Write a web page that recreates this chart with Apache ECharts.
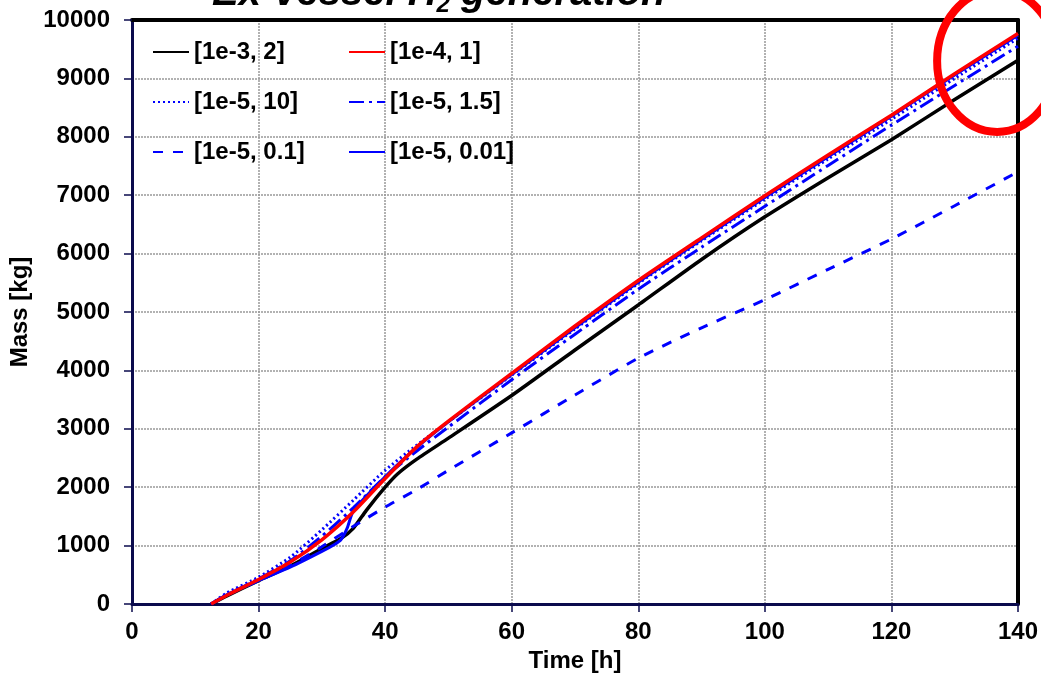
<!DOCTYPE html>
<html>
<head>
<meta charset="utf-8">
<script src="https://cdn.jsdelivr.net/npm/echarts@6/dist/echarts.min.js"></script>
<style>
html,body{margin:0;padding:0;background:#fff;}
#chart{width:1041px;height:674px;}
</style>
</head>
<body>
<div id="chart"></div>
<script>
// ---- data ----
const xTicks = [0, 20, 40, 60, 80, 100, 120, 140];
const yTicks = [0, 1000, 2000, 3000, 4000, 5000, 6000, 7000, 8000, 9000, 10000];

const tBlack = [12.5, 15, 20, 25, 30, 33, 35, 37, 40, 42, 45, 50, 60, 70, 80, 90, 100, 110, 120, 130, 140];
const vBlack = [0, 140, 400, 650, 950, 1120, 1300, 1600, 2000, 2230, 2480, 2840, 3570, 4350, 5120, 5900, 6630, 7300, 7950, 8640, 9310];

const tRed = [12.5, 15, 20, 25, 30, 35, 40, 45, 50, 60, 70, 80, 90, 100, 110, 120, 130, 140];
const vRed = [0, 150, 420, 720, 1100, 1580, 2150, 2690, 3130, 3950, 4760, 5540, 6270, 6990, 7690, 8370, 9080, 9770];

const tDot = [12.5, 15, 20, 25, 30, 35, 40, 45, 50, 60, 70, 80, 90, 100, 110, 120, 130, 140];
const vDot = [0, 190, 460, 800, 1270, 1780, 2290, 2720, 3120, 3920, 4710, 5490, 6220, 6930, 7620, 8300, 9000, 9690];

const tDashDot = [12.5, 15, 20, 25, 30, 35, 40, 45, 50, 60, 70, 80, 90, 100, 110, 120, 130, 140];
const vDashDot = [0, 160, 430, 740, 1160, 1650, 2180, 2620, 3030, 3840, 4620, 5390, 6110, 6810, 7510, 8200, 8880, 9550];

const tDash = [12.5, 15, 20, 25, 30, 35, 40, 45, 50, 60, 70, 80, 90, 100, 110, 120, 130, 140];
const vDash = [0, 150, 400, 660, 980, 1330, 1660, 1960, 2290, 2930, 3580, 4210, 4730, 5210, 5730, 6250, 6820, 7400];

const tSolidBlue = [12.5, 15, 20, 25, 30, 32, 33, 34, 35, 40, 45, 50, 60, 70, 80, 90, 100, 110, 120, 130, 140];
const vSolidBlue = [0, 160, 400, 630, 900, 1020, 1100, 1300, 1600, 2180, 2680, 3120, 3930, 4730, 5510, 6240, 6960, 7660, 8350, 9060, 9740];

const names = ['[1e-3, 2]', '[1e-4, 1]', '[1e-5, 10]', '[1e-5, 1.5]', '[1e-5, 0.1]', '[1e-5, 0.01]'];
const titleParts = ['Ex-vessel H', '2', ' generation'];
const xName = 'Time [h]';
const yName = 'Mass [kg]';

// ---- chart ----
const FONT = '"Liberation Sans", Arial, sans-serif';
const NAVY = '#0b0b4d';
const zip = (t, v) => t.map((x, i) => [x, v[i]]);

const chart = echarts.init(document.getElementById('chart'), null, {renderer: 'canvas'});

function lineSeries(name, data, color, width, type) {
  return {
    name: name, type: 'line', data: data, xAxisIndex: 0, yAxisIndex: 0,
    showSymbol: false, symbol: 'none', smooth: 0.2,
    lineStyle: {color: color, width: width, type: type, cap: 'butt'},
    itemStyle: {color: color},
    emphasis: {disabled: true},
    animation: false
  };
}

const legendText = {fontSize: 24, fontWeight: 'bold', fontFamily: FONT, color: '#000', lineHeight: 24};
const legendCommon = {
  orient: 'vertical', top: 40, padding: 0,
  itemWidth: 36, itemHeight: 14, itemGap: 26, textStyle: legendText, selectedMode: false,
  itemStyle: {opacity: 0}
};

const option = {
  animation: false,
  backgroundColor: '#fff',
  title: {
    text: '{a|' + titleParts[0] + '}{s|' + titleParts[1] + '}{a|' + titleParts[2] + '}',
    left: 212, top: -26, padding: 0,
    textStyle: {
      rich: {
        a: {fontSize: 40, fontWeight: 'bold', fontStyle: 'italic', fontFamily: FONT, color: '#000', lineHeight: 44, verticalAlign: 'top'},
        s: {fontSize: 24, fontWeight: 'bold', fontStyle: 'italic', fontFamily: FONT, color: '#000', lineHeight: 24, padding: [19, 0, 0, 0], verticalAlign: 'top'}
      }
    }
  },
  legend: [
    Object.assign({data: [names[0], names[2], names[4]], left: 152}, legendCommon),
    Object.assign({data: [names[1], names[3], names[5]], left: 348}, legendCommon)
  ],
  grid: {left: 132, right: 23, top: 20, bottom: 70, outerBoundsMode: 'none', containLabel: false},
  xAxis: [
    {
      type: 'value', min: xTicks[0], max: xTicks[xTicks.length - 1], interval: 20,
      name: xName, nameLocation: 'middle', nameGap: 40,
      nameTextStyle: {fontSize: 24, fontWeight: 'bold', fontFamily: FONT, color: '#000'},
      axisLine: {show: true, onZero: false, lineStyle: {color: NAVY, width: 3}},
      axisTick: {show: true, inside: false, length: 8, lineStyle: {color: NAVY, width: 1.5}},
      axisLabel: {fontSize: 24, fontWeight: 'bold', fontFamily: FONT, color: '#000', margin: 16,
                  formatter: v => String(v)},
      splitLine: {show: true, lineStyle: {color: '#999', width: 1.5, type: [2, 1]}}
    },
    {
      type: 'value', position: 'top', min: xTicks[0], max: xTicks[xTicks.length - 1], interval: 20,
      axisLine: {show: true, onZero: false, lineStyle: {color: '#000', width: 4}},
      axisTick: {show: false}, axisLabel: {show: false}, splitLine: {show: false}
    }
  ],
  yAxis: [
    {
      type: 'value', min: yTicks[0], max: yTicks[yTicks.length - 1], interval: 1000,
      name: yName, nameLocation: 'middle', nameGap: 86, nameRotate: 90,
      nameTextStyle: {fontSize: 24, fontWeight: 'bold', fontFamily: FONT, color: '#000'},
      axisLine: {show: true, onZero: false, lineStyle: {color: NAVY, width: 3}},
      axisTick: {show: true, inside: false, length: 8, lineStyle: {color: NAVY, width: 1.5}},
      axisLabel: {fontSize: 24, fontWeight: 'bold', fontFamily: FONT, color: '#000', margin: 22,
                  formatter: v => String(v)},
      splitLine: {show: true, lineStyle: {color: '#999', width: 1.5, type: [2, 1]}}
    },
    {
      type: 'value', position: 'right', min: yTicks[0], max: yTicks[yTicks.length - 1], interval: 1000,
      axisLine: {show: true, onZero: false, lineStyle: {color: '#000', width: 4}},
      axisTick: {show: false}, axisLabel: {show: false}, splitLine: {show: false}
    }
  ],
  series: [
    lineSeries(names[0], zip(tBlack, vBlack), '#000000', 3.5, 'solid'),
    lineSeries(names[5], zip(tSolidBlue, vSolidBlue), '#0000ff', 3, 'solid'),
    lineSeries(names[4], zip(tDash, vDash), '#0000ff', 3, [10, 10]),
    lineSeries(names[3], zip(tDashDot, vDashDot), '#0000ff', 3, [15, 5, 3, 5]),
    lineSeries(names[2], zip(tDot, vDot), '#0000ff', 3, [2, 3]),
    lineSeries(names[1], zip(tRed, vRed), '#ff0000', 3.5, 'solid')
  ]
};

chart.setOption(option);

// red highlight ellipse annotation near the curve ends
const c = chart.convertToPixel({xAxisIndex: 0, yAxisIndex: 0}, [136.7, 9300]);
chart.setOption({
  graphic: [{
    type: 'ellipse', z: 100,
    shape: {cx: c[0], cy: c[1], rx: 60, ry: 71},
    style: {fill: 'none', stroke: '#ff0000', lineWidth: 8}
  }]
});
</script>
</body>
</html>
